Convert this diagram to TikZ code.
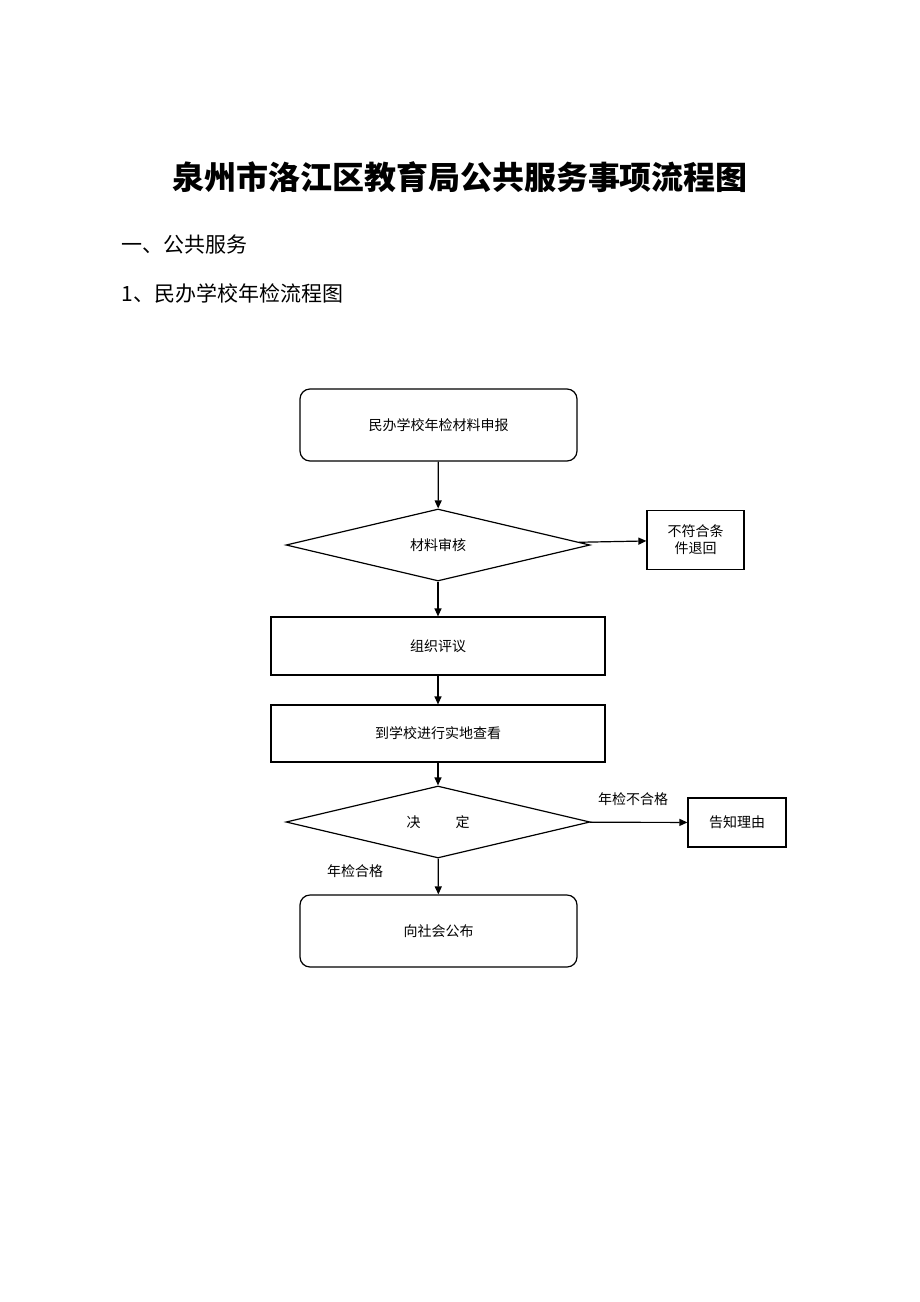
\documentclass[tikz,border=0pt]{standalone}
\usepackage{fontspec}
\setmainfont{Noto Sans CJK SC}
\usetikzlibrary{shapes.geometric,arrows.meta}
\begin{document}
\begin{tikzpicture}[x=1pt,y=-1pt,
  box/.style={draw,line width=1.2pt,inner sep=0pt,font=\fontsize{14}{17}\selectfont},
  rbox/.style={box,rounded corners=10pt},
  dia/.style={box,diamond,shape aspect=4.2,minimum width=304pt,minimum height=72pt},
  arr/.style={-{Triangle[length=8pt,width=7pt]},line width=1.2pt},
  lab/.style={font=\fontsize{14}{17}\selectfont}]
\useasboundingbox (0,0) rectangle (920,1302);
\node[font=\fontsize{32}{36}\selectfont\bfseries] (title) at (460,177) {泉州市洛江区教育局公共服务事项流程图};
\node[anchor=west,font=\fontsize{21}{24}\selectfont] (h1) at (118,245) {一、公共服务};
\node[anchor=west,font=\fontsize{21}{24}\selectfont] (h2) at (118,293) {1、民办学校年检流程图};
\node[rbox,minimum width=277pt,minimum height=72pt] (a) at (438.5,425) {民办学校年检材料申报};
\node[dia] (b) at (438,545) {材料审核};
\node[box,minimum width=97pt,minimum height=59pt,align=center] (r1) at (695.5,540) {不符合条\\件退回};
\node[box,minimum width=334pt,minimum height=58pt] (c) at (438,646) {组织评议};
\node[box,minimum width=334pt,minimum height=57pt] (d) at (438,733.5) {到学校进行实地查看};
\node[dia] (e) at (438,822) {决\hspace{2.5em}定};
\node[box,minimum width=98pt,minimum height=49pt] (r2) at (737,822.5) {告知理由};
\node[rbox,minimum width=277pt,minimum height=72pt] (f) at (438.5,931) {向社会公布};
\node[lab] (l1) at (633,799) {年检不合格};
\node[lab] (l2) at (355,871) {年检合格};
\draw[arr] (a) -- (b);
\draw[arr] (b) -- (r1);
\draw[arr] (b) -- (c);
\draw[arr] (c) -- (d);
\draw[arr] (d) -- (e);
\draw[arr] (e) -- (r2);
\draw[arr] (e) -- (f);
\end{tikzpicture}
\end{document}
